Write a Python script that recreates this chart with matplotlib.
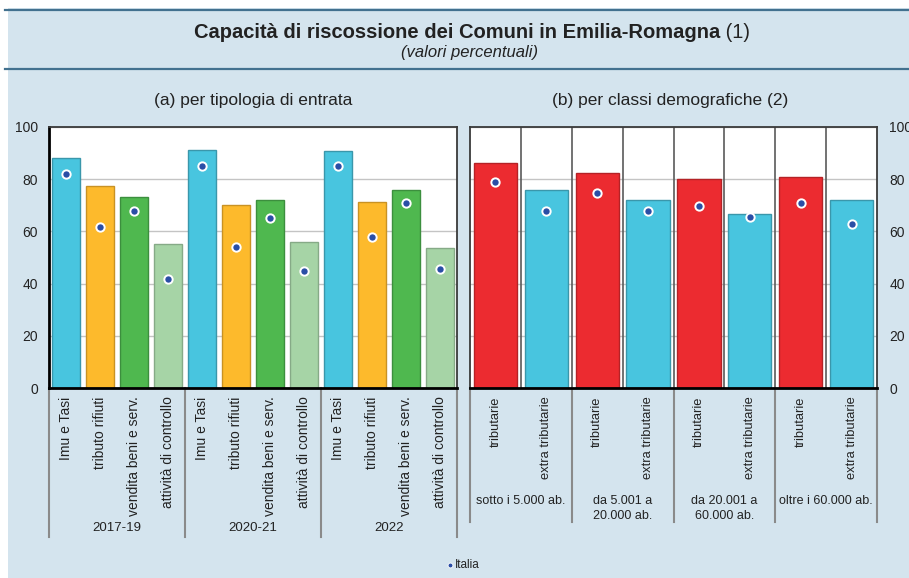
import matplotlib.pyplot as plt
import numpy as np
from matplotlib.patches import Rectangle
from matplotlib.lines import Line2D
from matplotlib.transforms import blended_transform_factory

plt.rcParams['font.family'] = ['Liberation Sans', 'DejaVu Sans']

# Dati (valori percentuali)
periodi = ["2017-19", "2020-21", "2022"]
tipologie = ["Imu e Tasi", "tributo rifiuti", "vendita beni e serv.", "attività di controllo"]
er_tipologia = [88.2, 77.4, 73.3, 55.2, 91.2, 70.1, 72.0, 55.9, 90.9, 71.3, 75.9, 53.6]
italia_tipologia = [82.0, 61.7, 67.8, 41.8, 85.0, 54.0, 65.2, 44.8, 85.0, 58.0, 71.0, 45.6]

classi = ["sotto i 5.000 ab.", "da 5.001 a\n20.000 ab.", "da 20.001 a\n60.000 ab.", "oltre i 60.000 ab."]
entrate = ["tributarie", "extra tributarie"]
er_classi = [86.1, 76.0, 82.3, 72.0, 80.0, 66.7, 80.7, 72.0]
italia_classi = [79.0, 68.0, 74.7, 67.8, 69.6, 65.5, 70.9, 62.7]

# Colori
sfondo = "#d4e4ee"
col_tip = ["#48c5df", "#fdba2c", "#4fb84f", "#a6d4a6"]
bordo_tip = ["#3a97ab", "#c99224", "#3c8f3e", "#86aa87"]
col_ent = ["#ec2b30", "#48c5df"]
bordo_ent = ["#b52226", "#3a97ab"]
blu_punto = "#2a4ea6"

W, H = 909, 578
fig = plt.figure(figsize=(W / 100, H / 100), dpi=100)
fig.patch.set_facecolor(sfondo)


def fx(x):
    return x / W


def fy(y):
    return 1 - y / H


# bordi bianchi (ritaglio) e righe del titolo
fig.add_artist(Rectangle((0, fy(8)), 1, 1, transform=fig.transFigure,
                         facecolor="white", edgecolor="none", zorder=-5))
fig.add_artist(Rectangle((0, 0), fx(8), 1, transform=fig.transFigure,
                         facecolor="white", edgecolor="none", zorder=-5))
for yy in [10, 69]:
    fig.add_artist(Line2D([fx(5), 1], [fy(yy), fy(yy)], color="#42718f", lw=1.6))

# Titolo
t1 = fig.text(fx(457), fy(33), "Capacità di riscossione dei Comuni in Emilia-Romagna",
              ha="center", va="center", fontsize=14.5, fontweight="bold", color="#222222")
fig.canvas.draw()
bb = t1.get_window_extent()
fig.text(bb.x1 / W, fy(33), " (1)", ha="left", va="center", fontsize=14.5, color="#222222")
fig.text(fx(470), fy(53), "(valori percentuali)", ha="center", va="center",
         fontsize=12, style="italic", color="#222222")

fig.text(fx(253), fy(101), "(a) per tipologia di entrata", ha="center", va="center",
         fontsize=12.5, color="#222222")
fig.text(fx(670), fy(101), "(b) per classi demografiche (2)", ha="center", va="center",
         fontsize=12.5, color="#222222")

# Assi
y0, y1 = 127, 388
axl = fig.add_axes([fx(49), fy(y1), (457 - 49) / W, (y1 - y0) / H])
axr = fig.add_axes([fx(470), fy(y1), (877 - 470) / W, (y1 - y0) / H])

# Pannello (a)
xl = np.arange(len(er_tipologia))
colori_l = [col_tip[i % 4] for i in xl]
bordi_l = [bordo_tip[i % 4] for i in xl]
axl.bar(xl, er_tipologia, width=0.8, color=colori_l, edgecolor=bordi_l, lw=1, zorder=2)
axl.plot(xl, italia_tipologia, ls="none", marker="o", ms=6, mfc=blu_punto,
         mec="white", mew=1.4, zorder=3)
axl.set_xticks(xl, tipologie * len(periodi), rotation=90, fontsize=10, va="top")

# Pannello (b)
xr = np.arange(len(er_classi))
colori_r = [col_ent[i % 2] for i in xr]
bordi_r = [bordo_ent[i % 2] for i in xr]
axr.bar(xr, er_classi, width=0.85, color=colori_r, edgecolor=bordi_r, lw=1, zorder=2)
axr.plot(xr, italia_classi, ls="none", marker="o", ms=6, mfc=blu_punto,
         mec="white", mew=1.4, zorder=3)
axr.set_xticks(xr, entrate * len(classi), rotation=90, fontsize=9.3, va="top")
for b in np.arange(0.5, len(er_classi) - 1, 1):
    axr.axvline(b, color="#5a5a5a", lw=1.2, zorder=1)

for ax, n in [(axl, len(er_tipologia)), (axr, len(er_classi))]:
    ax.set_facecolor("white")
    ax.set_ylim(0, 100)
    ax.set_xlim(-0.5, n - 0.5)
    ax.set_yticks([0, 20, 40, 60, 80, 100])
    ax.grid(axis="y", color="#c4c4c4", lw=1, zorder=0)
    ax.set_axisbelow(True)
    ax.tick_params(axis="y", length=0, labelsize=10, colors="#222222")
    ax.tick_params(axis="x", length=0, pad=6, colors="#222222")
    for s in ["top", "right", "left"]:
        ax.spines[s].set_color("#3a3a3a")
        ax.spines[s].set_linewidth(1.3)
    ax.spines["bottom"].set_color("black")
    ax.spines["bottom"].set_linewidth(2)

axl.spines["left"].set_color("black")
axl.spines["left"].set_linewidth(2)
axl.tick_params(axis="y", pad=8)
axr.yaxis.tick_right()
axr.tick_params(axis="y", pad=9)

# Separatori e etichette di gruppo
trl = blended_transform_factory(axl.transData, axl.transAxes)
for b in [-0.5, 3.5, 7.5, 11.5]:
    axl.plot([b, b], [0, -0.571], transform=trl, color="#8a8a8a", lw=1.5, clip_on=False)
for i, p in enumerate(periodi):
    axl.text(4 * i + 1.5, -0.536, p, transform=trl, ha="center", va="center",
             fontsize=9.5, color="#222222")

trr = blended_transform_factory(axr.transData, axr.transAxes)
for b in [-0.5, 1.5, 3.5, 5.5, 7.5]:
    axr.plot([b, b], [0, -0.513], transform=trr, color="#8a8a8a", lw=1.5, clip_on=False)
for i, c in enumerate(classi):
    axr.text(2 * i + 0.5, -0.41, c, transform=trr, ha="center", va="top",
             fontsize=9, color="#222222", linespacing=1.3)

# Legenda
fig.add_artist(Line2D([fx(450)], [fy(565)], ls="none", marker="o", ms=3.5,
                      mfc=blu_punto, mec="white", mew=0.6))
fig.text(fx(455), fy(565), "Italia", ha="left", va="center", fontsize=8.5, color="#222222")

fig.savefig("out.png", dpi=100, facecolor=fig.get_facecolor())
